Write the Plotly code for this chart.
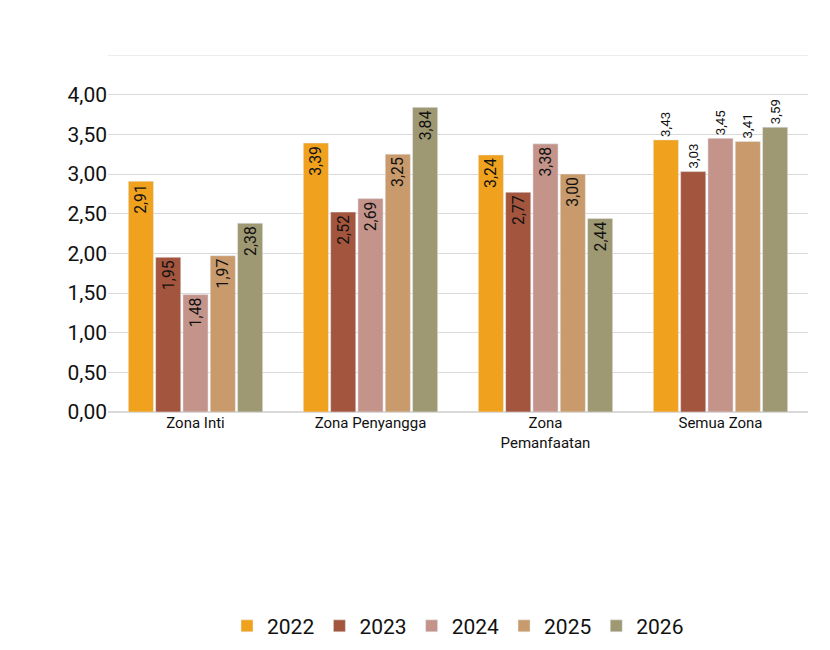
import plotly.graph_objects as go

categories = ["Zona Inti", "Zona Penyangga", "Zona<br>Pemanfaatan", "Semua Zona"]
years = ["2022", "2023", "2024", "2025", "2026"]
values = {
    "2022": [2.91, 3.39, 3.24, 3.43],
    "2023": [1.95, 2.52, 2.77, 3.03],
    "2024": [1.48, 2.69, 3.38, 3.45],
    "2025": [1.97, 3.25, 3.00, 3.41],
    "2026": [2.38, 3.84, 2.44, 3.59],
}
tick_vals = [0, 0.5, 1, 1.5, 2, 2.5, 3, 3.5, 4]
colors = ["#F0A11E", "#A4553D", "#C4948B", "#C99A6B", "#9F9973"]

fig = go.Figure()
for y, c in zip(years, colors):
    v = values[y]
    fig.add_trace(go.Bar(
        x=categories, y=v, name=y, marker_color=c,
        text=[f"{x:.2f}".replace(".", ",") for x in v],
        textposition=["inside", "inside", "inside", "outside"],
        insidetextanchor="end", textangle=-90,
        textfont=dict(family="Roboto", size=19, color="#111"),
        outsidetextfont=dict(family="Roboto", size=19, color="#111"),
        cliponaxis=False,
    ))

fig.update_layout(
    width=830, height=650, barmode="group", bargap=0.22, bargroupgap=0.08,
    plot_bgcolor="white", paper_bgcolor="white",
    margin=dict(l=100, r=30, t=47, b=242),
    font=dict(family="Roboto", color="#111"),
    separators=",.",
    yaxis=dict(range=[0, 4.5], tickvals=tick_vals, tickformat=".2f", showgrid=True,
               gridcolor="#d9d9d9", tickfont=dict(size=21), zeroline=True,
               zerolinecolor="#d9d9d9", ticksuffix="   "),
    xaxis=dict(tickfont=dict(size=15)),
    legend=dict(orientation="h", x=0.5, xanchor="center", y=-0.6, yanchor="middle",
                font=dict(size=21)),
)
fig.add_shape(type="line", xref="paper", yref="y", x0=0, x1=1, y0=4.5, y1=4.5,
              line=dict(color="#d9d9d9", width=1))
fig.write_html("out.html")
